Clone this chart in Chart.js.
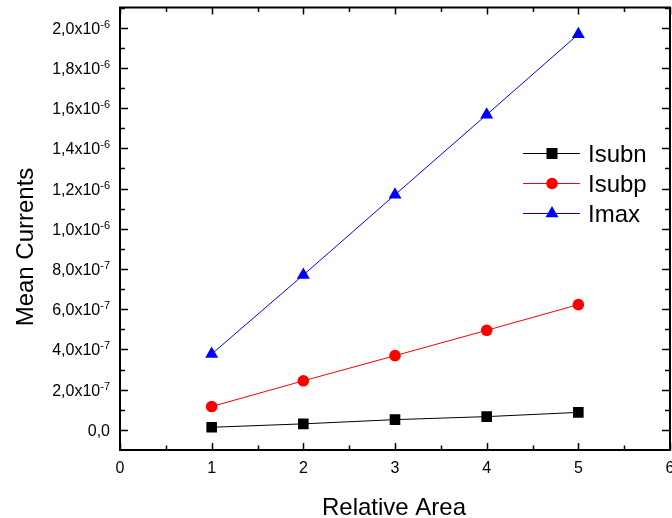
<!DOCTYPE html>
<html>
<head>
<meta charset="utf-8">
<script src="https://cdn.jsdelivr.net/npm/chart.js@4"></script>
<style>
  html, body { margin: 0; padding: 0; background: #ffffff; }
  #wrap { width: 672px; height: 518px; position: relative; }
</style>
</head>
<body>
<div id="wrap"><canvas id="c" width="672" height="518"></canvas></div>
<script>
// ---- data ----
const relativeArea = [1, 2, 3, 4, 5];
const isubn = [1.3e-8, 3.0e-8, 5.1e-8, 6.6e-8, 8.7e-8];
const isubp = [1.16e-7, 2.44e-7, 3.69e-7, 4.95e-7, 6.23e-7];
const imax  = [3.77e-7, 7.70e-7, 1.169e-6, 1.567e-6, 1.967e-6];
const seriesNames = ['Isubn', 'Isubp', 'Imax'];

// ---- tick labels ----
const xTickValues = [0, 1, 2, 3, 4, 5, 6];
const xTickLabels = ['0', '1', '2', '3', '4', '5', '6'];
const yTickValues = [0, 2e-7, 4e-7, 6e-7, 8e-7, 1.0e-6, 1.2e-6, 1.4e-6, 1.6e-6, 1.8e-6, 2.0e-6];
const yTickMantissa = ['0,0', '2,0x10', '4,0x10', '6,0x10', '8,0x10', '1,0x10', '1,2x10', '1,4x10', '1,6x10', '1,8x10', '2,0x10'];
const yTickExponent = ['', '-7', '-7', '-7', '-7', '-6', '-6', '-6', '-6', '-6', '-6'];
const xAxisTitle = 'Relative Area';
const yAxisTitle = 'Mean Currents';

const FONT = '"Liberation Sans", Arial, Helvetica, sans-serif';

function pts(ys) { return relativeArea.map((x, i) => ({ x: x, y: ys[i] })); }

function drawMarker(ctx, style, x, y, color) {
  ctx.save();
  ctx.fillStyle = color;
  ctx.beginPath();
  if (style === 'rect') {
    ctx.rect(x - 5.5, y - 5.5, 11, 11);
  } else if (style === 'circle') {
    ctx.arc(x, y, 5.8, 0, Math.PI * 2);
  } else {
    const r = 7.5;
    ctx.moveTo(x, y - r);
    ctx.lineTo(x + r * 0.866, y + r * 0.5);
    ctx.lineTo(x - r * 0.866, y + r * 0.5);
    ctx.closePath();
  }
  ctx.fill();
  ctx.restore();
}

const framePlugin = {
  id: 'frame',
  afterDraw(chart) {
    const ctx = chart.ctx;
    const a = chart.chartArea;
    const xs = chart.scales.x, ys = chart.scales.y;
    ctx.save();
    ctx.strokeStyle = '#000';
    ctx.lineWidth = 2;
    ctx.strokeRect(a.left, a.top, a.right - a.left, a.bottom - a.top);
    ctx.lineWidth = 1.5;
    // x ticks (bottom & top), major at integers, minor at halves
    for (let v = 0; v <= 6.001; v += 0.5) {
      const px = Math.round(xs.getPixelForValue(v)) + 0.5;
      const major = Math.abs(v - Math.round(v)) < 1e-6;
      const len = major ? 7 : 4.5;
      ctx.beginPath();
      ctx.moveTo(px, a.bottom); ctx.lineTo(px, a.bottom - len);
      ctx.moveTo(px, a.top); ctx.lineTo(px, a.top + len);
      ctx.stroke();
    }
    // y ticks (left & right), major every 2e-7, minor every 1e-7
    for (let k = -1; k <= 21; k++) {
      const v = k * 1e-7;
      const py = Math.round(ys.getPixelForValue(v)) + 0.5;
      if (py < a.top + 1 || py > a.bottom - 1) continue;
      const len = (k % 2 === 0) ? 8 : 5;
      ctx.beginPath();
      ctx.moveTo(a.left, py); ctx.lineTo(a.left + len, py);
      ctx.moveTo(a.right, py); ctx.lineTo(a.right - len, py);
      ctx.stroke();
    }
    // x tick labels
    ctx.fillStyle = '#000';
    ctx.font = '16px ' + FONT;
    ctx.textAlign = 'center';
    ctx.textBaseline = 'middle';
    xTickValues.forEach((v, i) => {
      ctx.fillText(xTickLabels[i], xs.getPixelForValue(v), a.bottom + 19);
    });
    // y tick labels with superscript exponent
    ctx.textAlign = 'left';
    ctx.textBaseline = 'alphabetic';
    const rightEdge = a.left - 10;
    yTickValues.forEach((v, i) => {
      const py = ys.getPixelForValue(v);
      ctx.font = '11px ' + FONT;
      const we = yTickExponent[i] ? ctx.measureText(yTickExponent[i]).width : 0;
      ctx.font = '16px ' + FONT;
      const wm = ctx.measureText(yTickMantissa[i]).width;
      const base = py + 6;
      ctx.fillText(yTickMantissa[i], rightEdge - we - wm, base);
      if (yTickExponent[i]) {
        ctx.font = '11px ' + FONT;
        ctx.fillText(yTickExponent[i], rightEdge - we, base - 6);
      }
    });
    // axis titles
    ctx.font = '24px ' + FONT;
    ctx.textAlign = 'center';
    ctx.textBaseline = 'alphabetic';
    ctx.fillText(xAxisTitle, (a.left + a.right) / 2 - 1, 515);
    ctx.save();
    ctx.translate(33, 247);
    ctx.rotate(-Math.PI / 2);
    ctx.fillText(yAxisTitle, 0, 0);
    ctx.restore();
    // legend
    const ds = chart.data.datasets;
    const rows = [153, 183, 213];
    ds.forEach((d, i) => {
      const y = rows[i];
      ctx.strokeStyle = d.borderColor;
      ctx.lineWidth = 1;
      ctx.beginPath();
      ctx.moveTo(523, y + 0.5); ctx.lineTo(580, y + 0.5);
      ctx.stroke();
      drawMarker(ctx, d.pointStyle, 552, y + 0.5, d.borderColor);
      ctx.fillStyle = '#000';
      ctx.font = '24px ' + FONT;
      ctx.textAlign = 'left';
      ctx.textBaseline = 'alphabetic';
      ctx.fillText(d.label, 588, y + 8.5);
    });
    ctx.restore();
  }
};

new Chart(document.getElementById('c'), {
  type: 'line',
  data: {
    datasets: [
      { label: seriesNames[0], data: pts(isubn), borderColor: '#000000', backgroundColor: '#000000',
        borderWidth: 1, pointStyle: 'rect', pointRadius: 7.5, pointBorderWidth: 0, tension: 0 },
      { label: seriesNames[1], data: pts(isubp), borderColor: '#ff0000', backgroundColor: '#ff0000',
        borderWidth: 1, pointStyle: 'circle', pointRadius: 5.8, pointBorderWidth: 0, tension: 0 },
      { label: seriesNames[2], data: pts(imax), borderColor: '#0000ff', backgroundColor: '#0000ff',
        borderWidth: 1, pointStyle: 'triangle', pointRadius: 7.5, pointBorderWidth: 0, tension: 0 }
    ]
  },
  options: {
    responsive: false,
    animation: false,
    layout: { autoPadding: false, padding: { top: 7.5, right: 2, left: 0, bottom: 0 } },
    plugins: { legend: { display: false }, tooltip: { enabled: false } },
    scales: {
      x: {
        type: 'linear', min: 0, max: 6,
        grid: { display: false }, border: { display: false },
        ticks: { display: false },
        afterFit(s) { s.height = 68; }
      },
      y: {
        type: 'linear', min: -1e-7, max: 2.1e-6,
        grid: { display: false }, border: { display: false },
        ticks: { display: false },
        afterFit(s) { s.width = 120; }
      }
    }
  },
  plugins: [framePlugin]
});
</script>
</body>
</html>
